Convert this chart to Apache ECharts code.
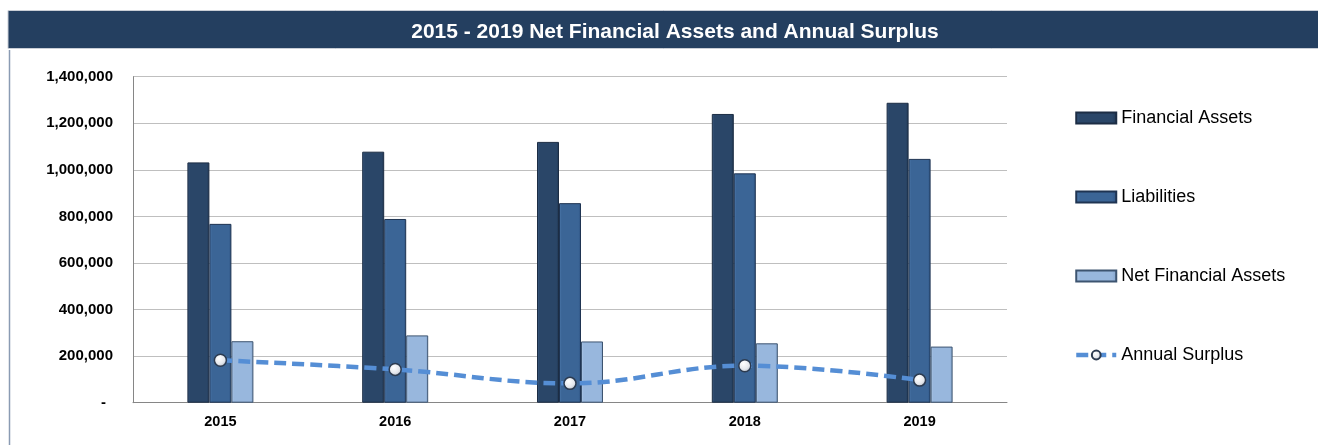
<!DOCTYPE html>
<html>
<head>
<meta charset="utf-8">
<script src="https://cdn.jsdelivr.net/npm/echarts@6/dist/echarts.min.js"></script>
<style>
  html, body { margin: 0; padding: 0; background: #fff; }
  #chart { width: 1318px; height: 445px; }
</style>
</head>
<body>
<div id="chart"></div>
<script>
// Fiscal years shown on the category axis
const years = ['2015', '2016', '2017', '2018', '2019'];

// Balance sheet figures per year
const financialAssets = [1032000, 1078000, 1120000, 1240000, 1288000];
const liabilities = [768000, 789000, 857000, 985000, 1047000];
const netFinancialAssets = [264000, 289000, 263000, 255000, 241000];
const annualSurplus = [182000, 143000, 83000, 159000, 97000];

// Value axis range
const yMin = 0;
const yMax = 1400000;
const yStep = 200000;

const labelFont = 'Liberation Sans, Arial, sans-serif';

function barFill(edge, mid, dark) {
  return {
    type: 'linear', x: 0, y: 0, x2: 1, y2: 0,
    colorStops: [
      { offset: 0, color: edge },
      { offset: 0.12, color: mid },
      { offset: 0.88, color: mid },
      { offset: 1, color: dark }
    ]
  };
}

const chart = echarts.init(document.getElementById('chart'), null, { renderer: 'canvas' });

chart.setOption({
  animation: false,
  backgroundColor: '#ffffff',
  title: {
    text: '2015 - 2019 Net Financial Assets and Annual Surplus',
    left: 670,
    top: 17,
    textAlign: 'center',
    textStyle: {
      color: '#ffffff',
      fontFamily: labelFont,
      fontWeight: 'bold',
      fontSize: 21
    }
  },
  graphic: [
    {
      type: 'rect',
      z: -1,
      shape: { x: 8, y: 10.5, width: 1312, height: 38 },
      style: { fill: '#243F60', stroke: '#C9CED6', lineWidth: 1 }
    },
    {
      type: 'line',
      shape: { x1: 9.5, y1: 50, x2: 9.5, y2: 445 },
      style: { stroke: '#8A9BB3', lineWidth: 1.5 }
    }
  ],
  legend: {
    orient: 'vertical',
    left: 1069,
    top: 102,
    itemGap: 57,
    itemWidth: 40,
    itemHeight: 11,
    textStyle: {
      color: '#000000',
      fontFamily: labelFont,
      fontSize: 18,
      lineHeight: 22
    },
    data: [
      { name: 'Financial Assets', icon: 'rect' },
      { name: 'Liabilities', icon: 'rect' },
      { name: 'Net Financial Assets', icon: 'rect' },
      { name: 'Annual Surplus', lineStyle: { width: 4.5 } }
    ]
  },
  grid: {
    left: 133,
    right: 311,
    top: 76.7,
    bottom: 42.3
  },
  xAxis: {
    type: 'category',
    data: years,
    axisLine: { lineStyle: { color: '#868686', width: 1 } },
    axisTick: { show: false },
    axisLabel: {
      color: '#000000',
      fontFamily: labelFont,
      fontWeight: 'bold',
      fontSize: 14.5,
      margin: 12
    }
  },
  yAxis: {
    type: 'value',
    min: yMin,
    max: yMax,
    interval: yStep,
    axisLine: { show: true, lineStyle: { color: '#868686', width: 1 } },
    axisTick: { show: false },
    splitLine: { lineStyle: { color: '#BFBFBF', width: 1 } },
    axisLabel: {
      color: '#000000',
      fontFamily: labelFont,
      fontWeight: 'bold',
      fontSize: 15,
      margin: 20,
      formatter: function (v) {
        return v === 0 ? '{d|-}' : v.toLocaleString('en-US');
      },
      rich: {
        d: {
          fontFamily: labelFont,
          fontWeight: 'bold',
          fontSize: 15,
          color: '#000000',
          padding: [0, 7, 0, 0]
        }
      }
    }
  },
  series: [
    {
      name: 'Financial Assets',
      type: 'bar',
      data: financialAssets,
      barWidth: 22,
      barGap: '0%',
      itemStyle: {
        color: barFill('#3A5A82', '#2A4668', '#1E3450'),
        borderColor: '#1C2D44',
        borderWidth: 1
      }
    },
    {
      name: 'Liabilities',
      type: 'bar',
      data: liabilities,
      barWidth: 22,
      barGap: '0%',
      itemStyle: {
        color: barFill('#4E7AAD', '#3B6596', '#2C5080'),
        borderColor: '#1F3452',
        borderWidth: 1
      }
    },
    {
      name: 'Net Financial Assets',
      type: 'bar',
      data: netFinancialAssets,
      barWidth: 22,
      barGap: '0%',
      itemStyle: {
        color: barFill('#B3CBE8', '#98B7DD', '#7F9FC8'),
        borderColor: '#3D5470',
        borderWidth: 1
      }
    },
    {
      name: 'Annual Surplus',
      type: 'line',
      data: annualSurplus,
      z: 5,
      smooth: 0.4,
      symbol: 'circle',
      symbolSize: 12,
      lineStyle: { color: '#558ED5', width: 4.5, type: [12, 6] },
      itemStyle: {
        color: {
          type: 'radial', x: 0.4, y: 0.35, r: 0.7,
          colorStops: [
            { offset: 0, color: '#FFFFFF' },
            { offset: 0.6, color: '#E4E7EC' },
            { offset: 1, color: '#A9B1BD' }
          ]
        },
        borderColor: '#2C3B50',
        borderWidth: 1.5
      }
    }
  ]
});
</script>
</body>
</html>
